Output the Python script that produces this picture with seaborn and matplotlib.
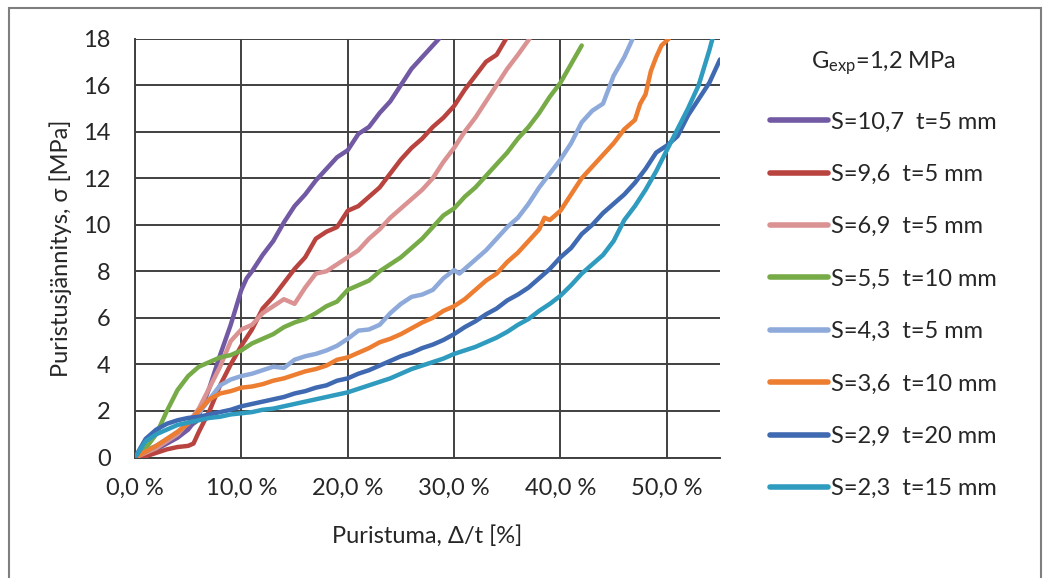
# Puristuskoe: jännitys vs. puristuma, eri muotokertoimet S
import numpy as np
import pandas as pd
import matplotlib
matplotlib.use("Agg")
import matplotlib.pyplot as plt
import matplotlib.ticker as ticker
from matplotlib.patches import Rectangle
import seaborn as sns

# --- data (luettu kuvasta) ---
labels = ["S=10,7  t=5 mm", "S=9,6  t=5 mm", "S=6,9  t=5 mm", "S=5,5  t=10 mm",
          "S=4,3  t=5 mm", "S=3,6  t=10 mm", "S=2,9  t=20 mm", "S=2,3  t=15 mm"]
colors = ["#7159a4", "#b9443f", "#da9392", "#77ab48",
          "#8eaadb", "#ed7d31", "#3f69b0", "#2e9bbf"]

x_s107 = [0, 2, 4, 5, 6, 7, 8, 9, 10, 10.5, 11, 12, 13, 14, 15, 16, 17, 18, 19, 20,
          21, 22, 23, 24, 25, 26, 27, 28, 28.6]
y_s107 = [0, 0.35, 0.85, 1.2, 1.8, 3.0, 4.4, 5.7, 7.2, 7.7, 8.0, 8.7, 9.3, 10.1, 10.8,
          11.3, 11.9, 12.4, 12.9, 13.2, 13.9, 14.2, 14.8, 15.3, 16.0, 16.7, 17.2, 17.7, 18.0]

x_s96 = [0, 1, 2, 3, 4, 5, 5.5, 6, 7, 8, 9, 10, 11, 12, 13, 14, 15, 16, 17, 18, 19, 20,
         21, 22, 23, 24, 25, 26, 27, 28, 29, 30, 31, 32, 33, 34, 34.9]
y_s96 = [0, 0.05, 0.2, 0.35, 0.45, 0.5, 0.6, 1.1, 2.0, 3.1, 4.0, 4.8, 5.5, 6.4, 6.9,
         7.5, 8.1, 8.6, 9.4, 9.7, 9.9, 10.6, 10.8, 11.2, 11.6, 12.2, 12.8, 13.3, 13.7,
         14.2, 14.6, 15.1, 15.8, 16.4, 17.0, 17.3, 18.0]

x_s69 = [0, 2, 4, 5, 6, 7, 8, 9, 10, 11, 12, 13, 14, 15, 16, 17, 18, 19, 20, 21, 22,
         23, 24, 25, 26, 27, 28, 29, 30, 31, 32, 33, 34, 35, 36, 37.1]
y_s69 = [0, 0.4, 1.0, 1.5, 2.1, 3.0, 3.9, 5.0, 5.5, 5.7, 6.2, 6.5, 6.8, 6.6, 7.3, 7.9,
         8.0, 8.3, 8.6, 8.9, 9.4, 9.8, 10.3, 10.7, 11.1, 11.5, 12.0, 12.7, 13.3, 14.0,
         14.6, 15.3, 16.0, 16.7, 17.3, 18.0]

x_s55 = [0, 1, 2, 3, 4, 5, 6, 7, 8, 9, 10, 11, 12, 13, 14, 15, 16, 17, 18, 19, 20, 21,
         22, 23, 24, 25, 26, 27, 28, 29, 30, 31, 32, 33, 34, 35, 36, 37, 38, 39, 40, 41, 42]
y_s55 = [0, 0.4, 1.0, 2.0, 2.9, 3.5, 3.9, 4.1, 4.3, 4.4, 4.6, 4.9, 5.1, 5.3, 5.6, 5.8,
         5.95, 6.2, 6.5, 6.7, 7.2, 7.4, 7.6, 8.0, 8.3, 8.6, 9.0, 9.4, 9.9, 10.4, 10.7,
         11.2, 11.6, 12.1, 12.6, 13.1, 13.7, 14.2, 14.8, 15.5, 16.1, 16.9, 17.7]

x_s43 = [0, 2, 4, 5, 6, 7, 8, 9, 10, 11, 12, 13, 14, 15, 16, 17, 18, 19, 20, 21, 22, 23,
         24, 25, 26, 27, 28, 29, 30, 30.5, 31, 32, 33, 34, 35, 36, 37, 38, 39, 40, 41,
         42, 43, 44, 45, 46, 46.8]
y_s43 = [0, 0.5, 1.1, 1.5, 1.9, 2.5, 3.1, 3.35, 3.5, 3.6, 3.75, 3.9, 3.85, 4.2, 4.35,
         4.45, 4.6, 4.8, 5.1, 5.45, 5.5, 5.7, 6.2, 6.6, 6.9, 7.0, 7.2, 7.7, 8.05, 7.9,
         8.1, 8.5, 8.9, 9.4, 9.9, 10.3, 10.9, 11.6, 12.2, 12.8, 13.5, 14.4, 14.9, 15.2,
         16.4, 17.2, 18.0]

x_s36 = [0, 2, 4, 5, 6, 7, 8, 9, 10, 11, 12, 13, 14, 15, 16, 17, 18, 19, 20, 21, 22, 23,
         24, 25, 26, 27, 28, 29, 30, 31, 32, 33, 34, 35, 36, 37, 38, 38.5, 39, 40, 41,
         42, 43, 44, 45, 46, 47, 47.5, 48, 48.5, 49, 49.5, 50.2]
y_s36 = [0, 0.5, 1.1, 1.45, 2.0, 2.5, 2.75, 2.85, 3.0, 3.05, 3.15, 3.3, 3.4, 3.55, 3.7,
         3.8, 3.95, 4.2, 4.3, 4.5, 4.7, 4.95, 5.1, 5.3, 5.55, 5.8, 6.0, 6.3, 6.5, 6.8,
         7.2, 7.6, 7.9, 8.4, 8.8, 9.3, 9.8, 10.3, 10.2, 10.6, 11.3, 12.0, 12.5, 13.0,
         13.5, 14.1, 14.5, 15.2, 15.6, 16.6, 17.2, 17.7, 18.0]

x_s29 = [0, 1, 2, 3, 4, 5, 6, 7, 8, 9, 10, 11, 12, 13, 14, 15, 16, 17, 18, 19, 20, 21,
         22, 23, 24, 25, 26, 27, 28, 29, 30, 31, 32, 33, 34, 35, 36, 37, 38, 39, 40, 41,
         42, 43, 44, 45, 46, 47, 48, 49, 50, 51, 52, 53, 54, 55]
y_s29 = [0, 0.8, 1.2, 1.45, 1.6, 1.7, 1.75, 1.85, 1.95, 2.05, 2.2, 2.3, 2.4, 2.5, 2.6,
         2.75, 2.85, 3.0, 3.1, 3.3, 3.4, 3.6, 3.75, 3.95, 4.15, 4.35, 4.5, 4.7, 4.85,
         5.05, 5.3, 5.6, 5.85, 6.15, 6.4, 6.75, 7.0, 7.3, 7.7, 8.1, 8.6, 9.0, 9.6, 10.0,
         10.5, 10.9, 11.3, 11.8, 12.4, 13.1, 13.4, 13.8, 14.7, 15.4, 16.1, 17.1]

x_s23 = [0, 1, 2, 3, 4, 5, 6, 7, 8, 9, 10, 11, 12, 13, 14, 15, 16, 17, 18, 19, 20, 21,
         22, 23, 24, 25, 26, 27, 28, 29, 30, 31, 32, 33, 34, 35, 36, 37, 38, 39, 40, 41,
         42, 43, 44, 45, 46, 47, 48, 49, 50, 51, 52, 53, 54, 54.3]
y_s23 = [0, 0.7, 1.0, 1.2, 1.4, 1.5, 1.6, 1.7, 1.75, 1.85, 1.9, 1.95, 2.05, 2.1, 2.2,
         2.3, 2.4, 2.5, 2.6, 2.7, 2.8, 2.95, 3.1, 3.25, 3.4, 3.6, 3.8, 3.95, 4.1, 4.25,
         4.45, 4.6, 4.75, 4.95, 5.15, 5.4, 5.7, 5.95, 6.3, 6.6, 6.95, 7.4, 7.9, 8.3,
         8.7, 9.3, 10.2, 10.8, 11.5, 12.3, 13.2, 14.1, 15.0, 16.0, 17.5, 18.0]

# harmaa käyrä origon lähellä (ei selitteessä)
x_grey = [0, 1, 2, 3, 4, 5, 5.8]
y_grey = [0, 0.3, 0.5, 0.7, 1.0, 1.3, 1.55]

xs = [x_s107, x_s96, x_s69, x_s55, x_s43, x_s36, x_s29, x_s23]
ys = [y_s107, y_s96, y_s69, y_s55, y_s43, y_s36, y_s29, y_s23]

df = pd.concat(
    [pd.DataFrame({"x": x, "y": y, "sarja": lab}) for x, y, lab in zip(xs, ys, labels)],
    ignore_index=True,
)

sns.set_style("white")
plt.rcParams["font.family"] = ["Lato", "DejaVu Sans"]
plt.rcParams["mathtext.default"] = "regular"

GRID = "#404040"
TXT = "#262626"
FS = 17

fig = plt.figure(figsize=(10.51, 5.78), dpi=100)
ax = fig.add_axes([135 / 1051, 1 - 457.5 / 578, 585 / 1051, 419 / 578])

ax.plot(x_grey, y_grey, color="#6b6b6b", linewidth=3, zorder=2)
sns.lineplot(data=df, x="x", y="y", hue="sarja", hue_order=labels,
             palette=dict(zip(labels, colors)), sort=False, estimator=None,
             linewidth=3.2, ax=ax, zorder=3)

ax.set_xlim(0, 55)
ax.set_ylim(0, 18)
ax.xaxis.set_major_locator(ticker.MultipleLocator(10))
ax.xaxis.set_minor_locator(ticker.MultipleLocator(2))
ax.yaxis.set_major_locator(ticker.MultipleLocator(2))
ax.yaxis.set_minor_locator(ticker.MultipleLocator(0.4))
ax.xaxis.set_major_formatter(ticker.FuncFormatter(lambda v, p: f"{v:.1f} %".replace(".", ",")))

ax.grid(True, which="major", color=GRID, linewidth=1.4, zorder=1)
ax.set_axisbelow(True)
for side in ["top", "right"]:
    ax.spines[side].set_visible(False)
for side in ["left", "bottom"]:
    ax.spines[side].set_color(GRID)
    ax.spines[side].set_linewidth(1.4)

ax.tick_params(which="major", direction="inout", length=11, width=1.1, color=GRID,
               labelsize=FS, labelcolor=TXT)
ax.tick_params(which="minor", direction="inout", length=8.5, width=1.1, color=GRID)
ax.tick_params(axis="x", which="major", pad=9)
ax.tick_params(axis="y", which="major", pad=12)

ax.set_xlabel("Puristuma, Δ/t [%]", fontsize=FS, color=TXT)
ax.set_ylabel("Puristusjännitys, σ [MPa]", fontsize=FS, color=TXT)
ax.xaxis.set_label_coords(0.5, -0.162)
ax.yaxis.set_label_coords(-0.108, 0.5)

handles, _ = ax.get_legend_handles_labels()
leg = ax.legend(handles, labels, title="G$_{exp}$=1,2 MPa", loc="upper left",
                bbox_to_anchor=(770 / 1051, 1 - 49 / 578), bbox_transform=fig.transFigure,
                frameon=False, fontsize=FS, title_fontsize=FS, handlelength=2.45,
                handletextpad=0.12, labelspacing=1.33, borderpad=0, borderaxespad=0)
leg._legend_box.sep = 25
for h in leg.legend_handles:
    h.set_linewidth(4)
for t in leg.get_texts():
    t.set_color(TXT)
leg.get_title().set_color(TXT)

# kehys koko kuvan ympärillä
fig.patches.append(Rectangle((9 / 1051, -0.01), 1032 / 1051, 1 - 8 / 578 + 0.01,
                             transform=fig.transFigure, fill=False,
                             edgecolor="#7f7f7f", linewidth=1.5))

fig.savefig("out.png", dpi=100)
